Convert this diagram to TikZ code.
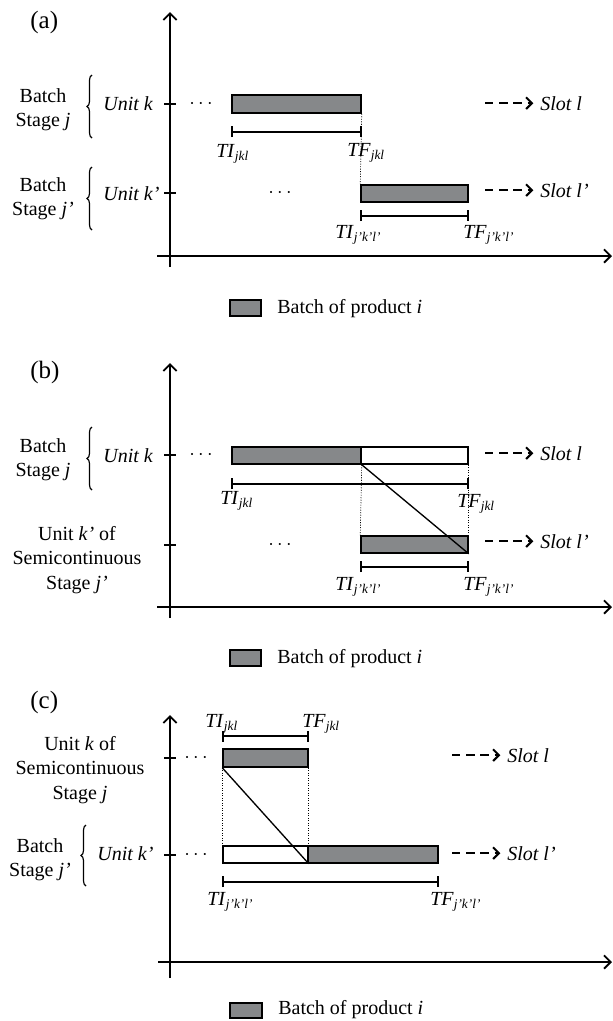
\documentclass[tikz,border=0pt]{standalone}
\usepackage{fontspec}
\setmainfont{Liberation Serif}
\usetikzlibrary{arrows.meta,decorations.pathreplacing,fit}
\definecolor{batchgray}{RGB}{134,136,138}
\newcommand{\tvar}[2]{\textit{#1}\textsubscript{\textit{#2}}}

\begin{document}
\begin{tikzpicture}[x=0.6pt,y=-0.6pt,
  every node/.style={inner sep=0pt,font=\fontsize{12}{14.5}\selectfont},
  tag/.style={anchor=base west,font=\fontsize{15}{18}\selectfont},
  txt/.style={anchor=base west},
  stage/.style={align=center},
  axis/.style={line width=1.1pt,-{Straight Barb[length=4pt,width=8pt]}},
  tick/.style={line width=1pt},
  bar/.style={draw,line width=0.9pt,fill=batchgray},
  hollow/.style={draw,line width=0.9pt,fill=white},
  guide/.style={line width=0.4pt,dash pattern=on 0.6pt off 0.9pt},
  span/.style={line width=1pt,{Bar[width=6.5pt]}-{Bar[width=6.5pt]}},
  slot/.style={line width=1.2pt,dash pattern=on 5pt off 3.5pt,-{Straight Barb[length=3.5pt,width=7pt]}},
  brace/.style={decorate,decoration={brace,amplitude=3pt},line width=0.7pt},
  diag/.style={line width=0.8pt}]
\useasboundingbox (0,0) rectangle (613,1021);

% (a) two batch stages
\node[tag] (a-tag) at (30,28) {(a)};
\coordinate (a-yb) at (170,267);
\coordinate (a-yt) at (170,12);
\coordinate (a-xl) at (157,256);
\coordinate (a-xr) at (612,256);
\draw[axis] (a-yb) -- (a-yt);
\draw[axis] (a-xl) -- (a-xr);
\coordinate (a-k) at (170,104);
\coordinate (a-kp) at (170,193);
\draw[tick] ([xshift=-3.6pt]a-k) -- ([xshift=3.6pt]a-k);
\draw[tick] ([xshift=-3.6pt]a-kp) -- ([xshift=3.6pt]a-kp);
\node[stage] (a-st1) at (43,110) {Batch\\Stage \textit{j}};
\node[stage] (a-st2) at (43,199) {Batch\\Stage \textit{j’}};
\draw[brace] (92,138) -- (92,75);
\draw[brace] (92,230) -- (92,167);
\node[txt] (a-uk) at (103,110) {\textit{Unit k}};
\node[txt] (a-ukp) at (103,200) {\textit{Unit k’}};
\node (a-dots1) at (201,104) {$\cdots$};
\node (a-dots2) at (280,193) {$\cdots$};
\node[bar,fit={(232,95) (361,113)}] (a-b1) {};
\node[bar,fit={(361,185) (468,202)}] (a-b2) {};
\draw[guide] (a-b1.south east) -- (a-b2.north west);
\draw[span] ([yshift=-10.8pt]a-b1.south west) -- ([yshift=-10.8pt]a-b1.south east);
\draw[span] ([yshift=-7.8pt]a-b2.south west) -- ([yshift=-7.8pt]a-b2.south east);
\node[txt] (a-ti1) at (216,157) {\tvar{TI}{jkl}};
\node[txt] (a-tf1) at (347,156) {\tvar{TF}{jkl}};
\node[txt] (a-ti2) at (335,238) {\tvar{TI}{j’k’l’}};
\node[txt] (a-tf2) at (463,238) {\tvar{TF}{j’k’l’}};
\node[txt] (a-sl1) at (540,110) {\textit{Slot l}};
\node[txt] (a-sl2) at (540,197) {\textit{Slot l’}};
\draw[slot] ([xshift=-33pt]a-sl1.west) -- ([xshift=-4pt]a-sl1.west);
\draw[slot] ([xshift=-33pt]a-sl2.west) -- ([xshift=-4pt]a-sl2.west);
\node[bar,fit={(230,300) (261,316)}] (a-key) {};
\node[txt] (a-keytxt) at (277,313) {Batch of product \textit{i}};

% (b) batch stage followed by semicontinuous stage
\node[tag] (b-tag) at (30,378) {(b)};
\coordinate (b-yb) at (170,618);
\coordinate (b-yt) at (170,363);
\coordinate (b-xl) at (157,607);
\coordinate (b-xr) at (612,607);
\draw[axis] (b-yb) -- (b-yt);
\draw[axis] (b-xl) -- (b-xr);
\coordinate (b-k) at (170,455);
\coordinate (b-kp) at (170,545);
\draw[tick] ([xshift=-3.6pt]b-k) -- ([xshift=3.6pt]b-k);
\draw[tick] ([xshift=-3.6pt]b-kp) -- ([xshift=3.6pt]b-kp);
\node[stage] (b-st1) at (43,460) {Batch\\Stage \textit{j}};
\node[stage] (b-st2) at (77,560) {Unit \textit{k’} of\\Semicontinuous\\Stage \textit{j’}};
\draw[brace] (92,490) -- (92,427);
\node[txt] (b-uk) at (103,462) {\textit{Unit k}};
\node (b-dots1) at (201,455) {$\cdots$};
\node (b-dots2) at (280,545) {$\cdots$};
\node[bar,fit={(232,447) (361,464)}] (b-b1) {};
\node[hollow,fit={(361,447) (468,464)}] (b-w1) {};
\node[bar,fit={(361,536) (468,553)}] (b-b2) {};
\draw[guide] (b-b1.south east) -- (b-b2.north west);
\draw[guide] (b-w1.south east) -- (b-b2.north east);
\draw[diag] (b-b1.south east) -- (b-b2.south east);
\draw[span] ([yshift=-11.4pt]b-b1.south west) -- ([yshift=-11.4pt]b-w1.south east);
\draw[span] ([yshift=-7.8pt]b-b2.south west) -- ([yshift=-7.8pt]b-b2.south east);
\node[txt] (b-ti1) at (220,504) {\tvar{TI}{jkl}};
\node[txt] (b-tf1) at (457,507) {\tvar{TF}{jkl}};
\node[txt] (b-ti2) at (335,590) {\tvar{TI}{j’k’l’}};
\node[txt] (b-tf2) at (463,590) {\tvar{TF}{j’k’l’}};
\node[txt] (b-sl1) at (540,460) {\textit{Slot l}};
\node[txt] (b-sl2) at (540,548) {\textit{Slot l’}};
\draw[slot] ([xshift=-33pt]b-sl1.west) -- ([xshift=-4pt]b-sl1.west);
\draw[slot] ([xshift=-33pt]b-sl2.west) -- ([xshift=-4pt]b-sl2.west);
\node[bar,fit={(230,650) (261,666)}] (b-key) {};
\node[txt] (b-keytxt) at (277,663) {Batch of product \textit{i}};

% (c) semicontinuous stage followed by batch stage
\node[tag] (c-tag) at (30,708) {(c)};
\coordinate (c-yb) at (170,978);
\coordinate (c-yt) at (170,715);
\coordinate (c-xl) at (158,962);
\coordinate (c-xr) at (612,962);
\draw[axis] (c-yb) -- (c-yt);
\draw[axis] (c-xl) -- (c-xr);
\coordinate (c-k) at (170,758);
\coordinate (c-kp) at (170,855);
\draw[tick] ([xshift=-3.6pt]c-k) -- ([xshift=3.6pt]c-k);
\draw[tick] ([xshift=-3.6pt]c-kp) -- ([xshift=3.6pt]c-kp);
\node[stage] (c-st1) at (80,770) {Unit \textit{k} of\\Semicontinuous\\Stage \textit{j}};
\node[stage] (c-st2) at (40,860) {Batch\\Stage \textit{j’}};
\draw[brace] (86,886) -- (86,825);
\node[txt] (c-ukp) at (97,860) {\textit{Unit k’}};
\node (c-dots1) at (196,758) {$\cdots$};
\node (c-dots2) at (196,855) {$\cdots$};
\node[bar,fit={(223,749) (308,767)}] (c-b1) {};
\node[hollow,fit={(223,846) (308,863)}] (c-w2) {};
\node[bar,fit={(308,846) (438,863)}] (c-b2) {};
\draw[guide] (c-b1.south west) -- (c-w2.north west);
\draw[guide] (c-b1.south east) -- (c-w2.north east);
\draw[diag] (c-b1.south west) -- (c-w2.south east);
\draw[span] ([yshift=7.2pt]c-b1.north west) -- ([yshift=7.2pt]c-b1.north east);
\draw[span] ([yshift=-10.8pt]c-w2.south west) -- ([yshift=-10.8pt]c-b2.south east);
\node[txt] (c-ti1) at (205,727) {\tvar{TI}{jkl}};
\node[txt] (c-tf1) at (302,727) {\tvar{TF}{jkl}};
\node[txt] (c-ti2) at (207,905) {\tvar{TI}{j’k’l’}};
\node[txt] (c-tf2) at (430,905) {\tvar{TF}{j’k’l’}};
\node[txt] (c-sl1) at (507,762) {\textit{Slot l}};
\node[txt] (c-sl2) at (507,860) {\textit{Slot l’}};
\draw[slot] ([xshift=-33pt]c-sl1.west) -- ([xshift=-4pt]c-sl1.west);
\draw[slot] ([xshift=-33pt]c-sl2.west) -- ([xshift=-4pt]c-sl2.west);
\node[bar,fit={(230,1003) (262,1018)}] (c-key) {};
\node[txt] (c-keytxt) at (278,1014) {Batch of product \textit{i}};
\end{tikzpicture}
\end{document}
